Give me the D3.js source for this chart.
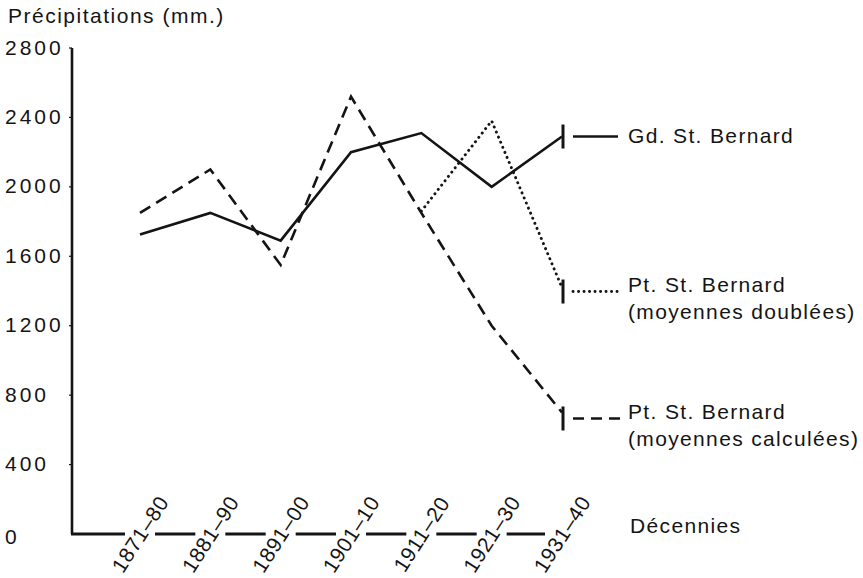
<!DOCTYPE html>
<html>
<head>
<meta charset="utf-8">
<script src="https://cdn.jsdelivr.net/npm/d3@7"></script>
<style>
  html, body { margin: 0; padding: 0; background: #fff; }
  svg { display: block; }
  text { font-family: "Liberation Sans", Arial, Helvetica, sans-serif; fill: #141414; }
</style>
</head>
<body>
<svg id="chart" width="863" height="578"></svg>
<script>
const categories = ["1871–80", "1881–90", "1891–00", "1901–10", "1911–20", "1921–30", "1931–40"];
const gdStBernard = [1725, 1850, 1690, 2200, 2310, 2000, 2290];
const ptDoublees = [null, null, null, null, 1860, 2380, 1420];
const ptCalculees = [1850, 2100, 1550, 2520, 1850, 1200, 700];
const yTicks = [0, 400, 800, 1200, 1600, 2000, 2400, 2800];
const yTitle = "Précipitations (mm.)";
const xTitle = "Décennies";
const legendLabels = [
  ["Gd. St. Bernard"],
  ["Pt. St. Bernard", "(moyennes doublées)"],
  ["Pt. St. Bernard", "(moyennes calculées)"]
];

const svg = d3.select("#chart");
const ink = "#141414";
const fs = 21;
const ls = 1.35;

const x = d3.scalePoint().domain(categories).range([140, 562]);
const y = d3.scaleLinear().domain([0, 2800]).range([534, 48]);
const axisX = 72;

// Y title
svg.append("text").attr("x", 8).attr("y", 23).attr("font-size", fs)
  .attr("letter-spacing", 1.5).text(yTitle);

// Y axis line
svg.append("line").attr("x1", axisX).attr("x2", axisX)
  .attr("y1", y(2800)).attr("y2", y(0))
  .attr("stroke", ink).attr("stroke-width", 2.6);

// Y tick labels
svg.selectAll(".ytick").data(yTicks).enter().append("text")
  .attr("x", 5).attr("y", d => y(d) + (d === 0 ? 2 : -1))
  .attr("dominant-baseline", "central")
  .attr("font-size", fs).attr("letter-spacing", 3)
  .text(d => d);
// tiny y ticks
svg.selectAll(".ytk").data(yTicks.filter(d => d > 0)).enter().append("line")
  .attr("x1", axisX - 3).attr("x2", axisX).attr("y1", d => y(d)).attr("y2", d => y(d))
  .attr("stroke", ink).attr("stroke-width", 1.2);

// X axis: segments between rotated labels
const gap = 15;
const xs = categories.map(c => x(c));
const segs = [[axisX - 1, xs[0] - gap]];
for (let i = 0; i < xs.length - 1; i++) {
  segs.push([xs[i] + gap, xs[i + 1] - (i === xs.length - 2 ? 17 : gap)]);
}
svg.selectAll(".xseg").data(segs).enter().append("line")
  .attr("x1", d => d[0]).attr("x2", d => d[1])
  .attr("y1", y(0)).attr("y2", y(0))
  .attr("stroke", ink).attr("stroke-width", 2.8);

// X labels rotated
svg.selectAll(".xlab").data(categories).enter().append("text")
  .attr("transform", d => `translate(${x(d)},${y(0)}) rotate(-57)`)
  .attr("text-anchor", "middle").attr("dominant-baseline", "central")
  .attr("font-size", fs).attr("letter-spacing", 0.6)
  .text(d => d);

// X title
svg.append("text").attr("x", 630).attr("y", 525)
  .attr("dominant-baseline", "central").attr("font-size", fs)
  .attr("letter-spacing", ls).text(xTitle);

// Lines
const line = d3.line()
  .defined(d => d.v != null)
  .x(d => x(d.c)).y(d => y(d.v));
const mk = arr => categories.map((c, i) => ({ c, v: arr[i] }));

const series = [
  { data: gdStBernard, dash: null, width: 2.6, cap: "butt" },
  { data: ptDoublees, dash: "0.1 5.4", width: 2.9, cap: "round" },
  { data: ptCalculees, dash: "12 7", width: 2.6, cap: "butt" }
];

series.forEach(s => {
  const p = svg.append("path").datum(mk(s.data))
    .attr("d", line).attr("fill", "none")
    .attr("stroke", ink).attr("stroke-width", s.width)
    .attr("stroke-linejoin", "miter").attr("stroke-linecap", s.cap);
  if (s.dash) p.attr("stroke-dasharray", s.dash);
});

// End markers and legend
const last = categories[categories.length - 1];
const legendX1 = 573, legendX2 = 618, textX = 628;
series.forEach((s, k) => {
  const v = s.data[s.data.length - 1];
  const yy = y(v);
  const offs = [0, 4, 6][k];
  svg.append("line").attr("x1", x(last) + 1).attr("x2", x(last) + 1)
    .attr("y1", yy - 12 + offs).attr("y2", yy + 12 + offs)
    .attr("stroke", ink).attr("stroke-width", 3);
  const ly = yy + offs;
  const lg = svg.append("line").attr("x1", legendX1).attr("x2", legendX2 + (k === 2 ? 6 : 0))
    .attr("y1", ly).attr("y2", ly)
    .attr("stroke", ink).attr("stroke-width", s.width)
    .attr("stroke-linecap", s.cap);
  if (s.dash) lg.attr("stroke-dasharray", k === 2 ? "11 7" : s.dash);
  const labs = legendLabels[k];
  const t0 = labs.length === 1 ? ly - 1 : ly - 7;
  labs.forEach((t, j) => {
    svg.append("text").attr("x", textX).attr("y", t0 + j * 27)
      .attr("dominant-baseline", "central").attr("font-size", fs)
      .attr("letter-spacing", ls).text(t);
  });
});
</script>
</body>
</html>
